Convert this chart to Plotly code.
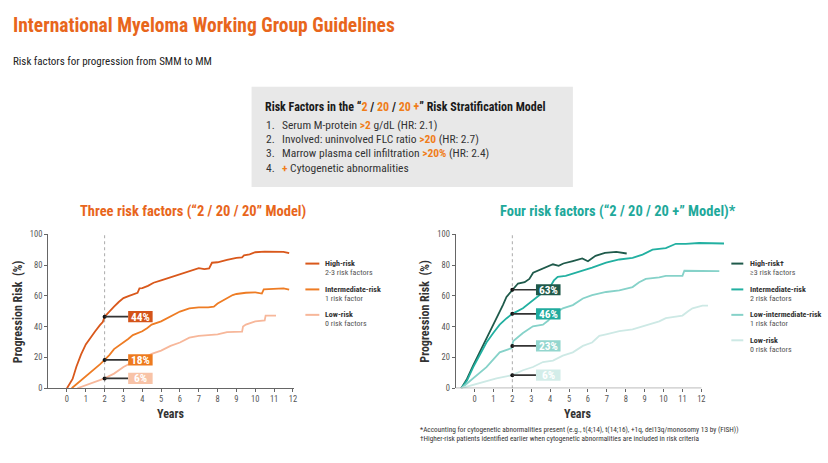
import plotly.graph_objects as go

W, H = 828, 463

# ---------------- data ----------------
years_ticks = list(range(0, 13))
risk_ticks = [0, 20, 40, 60, 80, 100]

# Three risk factors model (left)
high3_x = [0, 0.3, 0.5, 0.75, 1, 1.25, 1.5, 1.75, 1.9, 2, 2.25, 2.5, 2.75, 3, 3.3, 3.55, 3.75, 3.85, 4, 4.3, 4.6, 5, 5.5, 6, 6.5, 7, 7.3, 7.55, 7.7, 8, 8.5, 9, 9.3, 9.4, 9.7, 10, 10.5, 11, 11.5, 11.8]
high3_y = [0, 6, 14, 22, 28.5, 33, 37, 41, 43, 46.5, 50, 53, 56, 58.5, 60, 61.3, 62, 64.8, 65, 66.5, 68.5, 70, 72, 74.3, 76.3, 78, 77.3, 77.8, 81.5, 81.8, 83.3, 84.7, 85, 86.3, 87, 88.3, 88.7, 88.7, 88.6, 87.7]
int3_x = [0.25, 0.5, 0.75, 1, 1.25, 1.5, 1.75, 2, 2.25, 2.5, 2.75, 3, 3.25, 3.5, 3.75, 4, 4.25, 4.5, 5, 5.5, 6, 6.5, 7, 7.5, 7.8, 8, 8.5, 8.8, 9, 9.5, 10, 10.35, 10.45, 11, 11.5, 11.8]
int3_y = [0, 2.5, 5, 7.4, 10, 12.7, 15.5, 18.4, 21.5, 25.4, 27.5, 29.7, 32, 34.5, 35.5, 37, 39, 41.3, 43.4, 46.5, 49.8, 51.9, 52.5, 52.5, 53, 55, 58.3, 60.5, 61.2, 62, 62.3, 61.5, 64.2, 64.6, 64.8, 64]
low3_x = [0.55, 1, 1.5, 2, 2.5, 3, 3.5, 4, 4.5, 5, 5.5, 6, 6.5, 7, 7.5, 8, 8.5, 9, 9.3, 9.35, 9.5, 10, 10.5, 10.55, 11.1]
low3_y = [0, 2.1, 4.2, 6.4, 9.5, 13.8, 17, 19, 22.3, 24.4, 27.5, 29.7, 32.8, 34, 34.5, 35, 36.5, 36.5, 36.8, 40, 41.3, 43.4, 44, 47.2, 47.2]

# Four risk factors model (right)
high4_x = [-0.7, -0.4, -0.07, 0.3, 0.63, 1, 1.25, 1.5, 1.69, 2, 2.3, 2.65, 2.9, 3.1, 3.6, 4.15, 4.45, 4.7, 5.2, 5.7, 6.0, 6.4, 6.9, 7.5, 8.05]
high4_y = [0, 6, 14.8, 24, 32.8, 41, 47.7, 54, 59.3, 64, 68, 68.9, 71, 75, 77.7, 80.5, 79.5, 81, 82.6, 84.3, 82.5, 86, 87.9, 88.5, 87.5]
int4_x = [-0.7, -0.4, -0.07, 0.3, 0.63, 1, 1.33, 1.7, 2, 2.56, 3.09, 3.62, 4, 4.2, 4.4, 4.82, 5.52, 6.22, 6.96, 7.66, 8.36, 8.89, 9.42, 10.12, 10.65, 11.18, 11.88, 12.5, 13.2]
int4_y = [0, 5, 13.7, 22, 29.7, 36, 41.3, 45.5, 48.3, 51.9, 57.2, 62.5, 66, 70, 72.4, 73, 75.6, 78.3, 81.5, 83.6, 84.7, 86.8, 90, 91, 93.8, 93.8, 94.3, 94, 94]
lowint4_x = [-0.7, -0.07, 0.63, 1.33, 1.77, 1.95, 2.05, 2.56, 3.09, 3.62, 3.9, 4.15, 4.67, 5.2, 5.73, 6.22, 6.96, 7.66, 8.36, 8.71, 9.06, 9.77, 10.12, 11.0, 11.1, 11.88, 12.95]
lowint4_y = [0, 6.4, 13.7, 23.3, 25.4, 26, 30.7, 35.9, 40.2, 41.3, 44, 47.6, 51.9, 54, 58.3, 60.4, 62.5, 63.6, 65.7, 68.8, 71, 72, 73, 73, 76.3, 76.3, 76]
low4_x = [-0.7, -0.07, 0.63, 1.16, 2, 2.56, 3.09, 3.62, 4.15, 4.67, 5.2, 5.73, 6.22, 6.6, 6.96, 7.66, 8.36, 8.89, 9.42, 9.77, 10.12, 10.65, 11.0, 11.3, 11.53, 12.06, 12.35]
low4_y = [0, 2.1, 4.2, 6.4, 8.5, 11.7, 13.8, 17, 18, 21.2, 23.3, 27.5, 29.7, 34, 35, 37.1, 38.2, 40.2, 42.3, 43.4, 45.5, 46.6, 47.2, 50, 51.9, 53.6, 53.6]

# 2-year risk call-outs
mark_year = 2
left_marks = [46.5, 18.4, 6.4]
left_labels = ["44%", "18%", "6%"]
right_marks = [64, 48.3, 27.5, 8.5]
right_labels = ["63%", "46%", "23%", "6%"]

left_names = [("High-risk", "2-3 risk factors"), ("Intermediate-risk", "1 risk factor"), ("Low-risk", "0 risk factors")]
right_names = [("High-risk\u2020", "\u22653 risk factors"), ("Intermediate-risk", "2 risk factors"),
               ("Low-intermediate-risk", "1 risk factor"), ("Low-risk", "0 risk factors")]

footnotes = ["*Accounting for cytogenetic abnormalities present (e.g., t(4;14), t(14;16), +1q, del13q/monosomy 13 by (FISH))",
             "\u2020Higher-risk patients identified earlier when cytogenetic abnormalities are included in risk criteria"]

# ---------------- styles ----------------
ORANGE = "#e8661c"
TEAL = "#1fa99b"
left_colors = ["#d9581b", "#ee7c24", "#f7b79a"]
left_box = ["#d4541a", "#ee7a1e", "#f8c3a7"]
right_colors = ["#1f5a4b", "#22b0a1", "#86d2c9", "#cde9e5"]
right_box = ["#1f5a4b", "#20ab9e", "#93d6ce", "#d3ede9"]
FONT = "Roboto Condensed, Liberation Sans, sans-serif"


def px(x):
    return x / W


def py(y):
    return 1 - y / H


fig = go.Figure()

series_left = [(high3_x, high3_y), (int3_x, int3_y), (low3_x, low3_y)]
series_right = [(high4_x, high4_y), (int4_x, int4_y), (lowint4_x, lowint4_y), (low4_x, low4_y)]

for (xs, ys), c in zip(series_left, left_colors):
    fig.add_trace(go.Scatter(x=xs, y=ys, mode="lines", line=dict(color=c, width=1.8),
                             xaxis="x", yaxis="y", hoverinfo="skip"))
for (xs, ys), c in zip(series_right, right_colors):
    fig.add_trace(go.Scatter(x=xs, y=ys, mode="lines", line=dict(color=c, width=1.8),
                             xaxis="x2", yaxis="y2", hoverinfo="skip"))

shapes = []
annotations = []

for xr, yr, marks, labels, boxes in [("x", "y", left_marks, left_labels, left_box),
                                     ("x2", "y2", right_marks, right_labels, right_box)]:
    # dotted reference line at 2 years
    shapes.append(dict(type="line", xref=xr, yref=yr, x0=mark_year, x1=mark_year, y0=0, y1=100,
                       line=dict(color="#aaaaaa", width=1, dash="dot"), layer="below"))
    for v, lab, bc in zip(marks, labels, boxes):
        shapes.append(dict(type="line", xref=xr, yref=yr, x0=mark_year, x1=3.25, y0=v, y1=v,
                           line=dict(color="#333333", width=1.6)))
        shapes.append(dict(type="rect", xref=xr, yref=yr, x0=3.25, x1=4.55, y0=v - 3.6, y1=v + 3.6,
                           fillcolor=bc, line=dict(width=0)))
        annotations.append(dict(xref=xr, yref=yr, x=3.9, y=v, text="<b>" + lab + "</b>",
                                showarrow=False, font=dict(family=FONT, size=11.5, color="white"),
                                xanchor="center", yanchor="middle"))
    fig.add_trace(go.Scatter(x=[mark_year] * len(marks), y=marks, mode="markers",
                             marker=dict(color="#111111", size=4), xaxis=xr, yaxis=yr, hoverinfo="skip"))

# right x axis line only to 12
shapes.append(dict(type="line", xref="x2", yref="y2", x0=-1, x1=12, y0=0, y1=0,
                   line=dict(color="#666666", width=1)))

# info box
shapes.append(dict(type="rect", xref="paper", yref="paper", x0=px(252.5), x1=px(575), y0=py(186), y1=py(83.5),
                   fillcolor="#e8e8e8", line=dict(width=0), layer="below"))

hl = "<span style='color:#f07d1a'>%s</span>"
annotations.append(dict(xref="paper", yref="paper", x=px(264), y=py(104), xanchor="left", yanchor="middle",
                        text="<b>Risk Factors in the \u201c" + hl % "2" + " / " + hl % "20" + " / " + hl % "20 +"
                             + "\u201d Risk Stratification Model</b>",
                        showarrow=False, font=dict(family=FONT, size=12, color="#1a1a1a")))
box_lines = ["Serum M-protein " + hl % "<b>&gt;2</b>" + " g/dL (HR: 2.1)",
             "Involved: uninvolved FLC ratio " + hl % "<b>&gt;20</b>" + " (HR: 2.7)",
             "Marrow plasma cell infiltration " + hl % "<b>&gt;20%</b>" + " (HR: 2.4)",
             hl % "<b>+</b>" + " Cytogenetic abnormalities"]
for i, (t, yy) in enumerate(zip(box_lines, [122.7, 137, 151.5, 167])):
    annotations.append(dict(xref="paper", yref="paper", x=px(265), y=py(yy), xanchor="left", yanchor="middle",
                            text="%d." % (i + 1), showarrow=False,
                            font=dict(family=FONT, size=11.5, color="#333333")))
    annotations.append(dict(xref="paper", yref="paper", x=px(281), y=py(yy), xanchor="left", yanchor="middle",
                            text=t, showarrow=False, font=dict(family=FONT, size=11.5, color="#333333")))

# titles
annotations.append(dict(xref="paper", yref="paper", x=px(11), y=py(21), xanchor="left", yanchor="middle",
                        text="<b>International Myeloma Working Group Guidelines</b>", showarrow=False,
                        font=dict(family=FONT, size=19.5, color=ORANGE)))
annotations.append(dict(xref="paper", yref="paper", x=px(11), y=py(58), xanchor="left", yanchor="middle",
                        text="Risk factors for progression from SMM to MM", showarrow=False,
                        font=dict(family=FONT, size=11, color="#222222")))
annotations.append(dict(xref="paper", yref="paper", x=px(194), y=py(211), xanchor="center", yanchor="middle",
                        text="<b>Three risk factors (\u201c2 / 20 / 20\u201d Model)</b>", showarrow=False,
                        font=dict(family=FONT, size=14.5, color=ORANGE)))
annotations.append(dict(xref="paper", yref="paper", x=px(620), y=py(211), xanchor="center", yanchor="middle",
                        text="<b>Four risk factors (\u201c2 / 20 / 20 +\u201d Model)*</b>", showarrow=False,
                        font=dict(family=FONT, size=14.5, color=TEAL)))

# axis titles
for xx in [18, 427]:
    annotations.append(dict(xref="paper", yref="paper", x=px(xx), y=py(313), xanchor="center", yanchor="middle",
                            text="<b>Progression Risk  (%)</b>", textangle=-90, showarrow=False,
                            font=dict(family=FONT, size=12, color="#333333")))
for xx in [171, 580]:
    annotations.append(dict(xref="paper", yref="paper", x=px(xx), y=py(418), xanchor="center", yanchor="middle",
                            text="<b>Years</b>", showarrow=False,
                            font=dict(family=FONT, size=12, color="#333333")))


# legends
def legend(x_line0, x_line1, x_text, ys, names, colors):
    for (n1, n2), yy, c in zip(names, ys, colors):
        shapes.append(dict(type="line", xref="paper", yref="paper", x0=px(x_line0), x1=px(x_line1),
                           y0=py(yy), y1=py(yy), line=dict(color=c, width=2)))
        annotations.append(dict(xref="paper", yref="paper", x=px(x_text), y=py(yy), xanchor="left",
                                yanchor="middle", text="<b>" + n1 + "</b>", showarrow=False,
                                font=dict(family=FONT, size=8, color="#333333")))
        annotations.append(dict(xref="paper", yref="paper", x=px(x_text), y=py(yy + 9), xanchor="left",
                                yanchor="middle", text=n2, showarrow=False,
                                font=dict(family=FONT, size=8, color="#555555")))


legend(306.5, 320.5, 324, [264.3, 290.7, 316.7], left_names, left_colors)
legend(734, 746, 751, [264.3, 290.7, 316.7, 342.7], right_names, right_colors)

# footnotes (one block, two lines)
annotations.append(dict(xref="paper", yref="paper", x=px(420), y=py(438.5), xanchor="left", yanchor="middle",
                        align="left", text="<br>".join(footnotes),
                        showarrow=False, font=dict(family=FONT, size=7.3, color="#333333")))

tick_font = dict(family=FONT, size=8.5, color="#555555")
ydom = [py(391.7), py(234.3)]
axis_common = dict(showgrid=False, zeroline=False, ticks="outside", ticklen=3, tickcolor="#666666",
                   tickfont=tick_font, fixedrange=True)

fig.update_layout(
    width=W, height=H, margin=dict(l=0, r=0, t=0, b=0),
    paper_bgcolor="white", plot_bgcolor="white", showlegend=False,
    xaxis=dict(domain=[px(48.3), px(48.3 + 13.05 * 18.9)], range=[-1, 12.05], tickvals=years_ticks,
               showline=True, linecolor="#666666", linewidth=1, anchor="y", **axis_common),
    yaxis=dict(domain=ydom, range=[0, 100], tickvals=risk_ticks, showline=True, linecolor="#666666",
               linewidth=1, anchor="x", **axis_common),
    xaxis2=dict(domain=[px(457.3), px(457.3 + 14.3 * 18.97)], range=[-1, 13.3], tickvals=years_ticks,
                showline=False, anchor="y2", **axis_common),
    yaxis2=dict(domain=ydom, range=[0, 100], tickvals=risk_ticks, showline=True, linecolor="#666666",
                linewidth=1, anchor="x2", **axis_common),
    shapes=shapes, annotations=annotations,
)

fig.write_html("out.html", config={"displayModeBar": False},
               post_script="document.body.style.margin='0px';document.body.style.overflow='hidden';")
